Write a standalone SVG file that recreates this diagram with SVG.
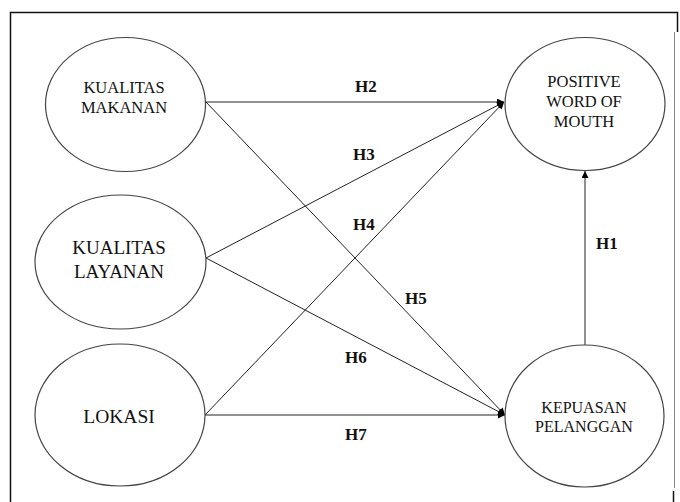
<svg xmlns="http://www.w3.org/2000/svg" width="680" height="502" viewBox="0 0 680 502" font-family="'Liberation Serif', 'Times New Roman', Times, serif">
<defs>
<marker id="ah" viewBox="0 0 10 10" refX="10" refY="5" markerWidth="8" markerHeight="7" markerUnits="userSpaceOnUse" orient="auto">
<path d="M0,0 L10,5 L0,10 z" fill="#000"/>
</marker>
<style>
.node ellipse{fill:#fff;stroke:#444;stroke-width:1.2}
.node text{fill:#111;text-anchor:middle}
.conn line{stroke:#222;stroke-width:1;marker-end:url(#ah)}
.lbl{font-weight:bold;font-size:17px;fill:#111}
</style>
</defs>
<rect width="680" height="502" fill="#fff"/>
<g id="frame" fill="none">
<path d="M10.5,502 V12.5 H677.5 V32" stroke="#111" stroke-width="1.5"/>
<line x1="674.5" y1="32" x2="674.5" y2="488" stroke="#888" stroke-width="1"/>
<line x1="673.5" y1="491" x2="673.5" y2="502" stroke="#111" stroke-width="1.5"/>
</g>
<g id="connectors" class="conn">
<line x1="206" y1="102" x2="504" y2="102"/>
<line x1="206" y1="102" x2="505" y2="415"/>
<line x1="206" y1="258" x2="504" y2="102"/>
<line x1="206" y1="258" x2="505" y2="415"/>
<line x1="205" y1="415" x2="504" y2="102"/>
<line x1="205" y1="415" x2="505" y2="415"/>
<line x1="585" y1="345" x2="585" y2="171"/>
</g>
<g id="labels">
<text class="lbl" x="355" y="92">H2</text>
<text class="lbl" x="353" y="160">H3</text>
<text class="lbl" x="353" y="230">H4</text>
<text class="lbl" x="405" y="304">H5</text>
<text class="lbl" x="345" y="363">H6</text>
<text class="lbl" x="345" y="440">H7</text>
<text class="lbl" x="596" y="249">H1</text>
</g>
<g id="kualitas-makanan" class="node">
<ellipse cx="125.5" cy="104.5" rx="80" ry="67"/>
<text x="124" y="93" font-size="16.5">KUALITAS</text>
<text x="124" y="113" font-size="16.5">MAKANAN</text>
</g>
<g id="kualitas-layanan" class="node">
<ellipse cx="120.5" cy="262" rx="85.5" ry="67"/>
<text x="119" y="254" font-size="19">KUALITAS</text>
<text x="119" y="278" font-size="19">LAYANAN</text>
</g>
<g id="lokasi" class="node">
<ellipse cx="120" cy="415" rx="85" ry="71"/>
<text x="119" y="423" font-size="19.5">LOKASI</text>
</g>
<g id="positive-wom" class="node">
<ellipse cx="585" cy="104" rx="80" ry="66.5"/>
<text x="584" y="87" font-size="16.5">POSITIVE</text>
<text x="584" y="107" font-size="16.5">WORD OF</text>
<text x="584" y="127" font-size="16.5">MOUTH</text>
</g>
<g id="kepuasan-pelanggan" class="node">
<ellipse cx="584.5" cy="416" rx="79.5" ry="71"/>
<text x="584" y="413" font-size="16">KEPUASAN</text>
<text x="584" y="432" font-size="16">PELANGGAN</text>
</g>
</svg>
